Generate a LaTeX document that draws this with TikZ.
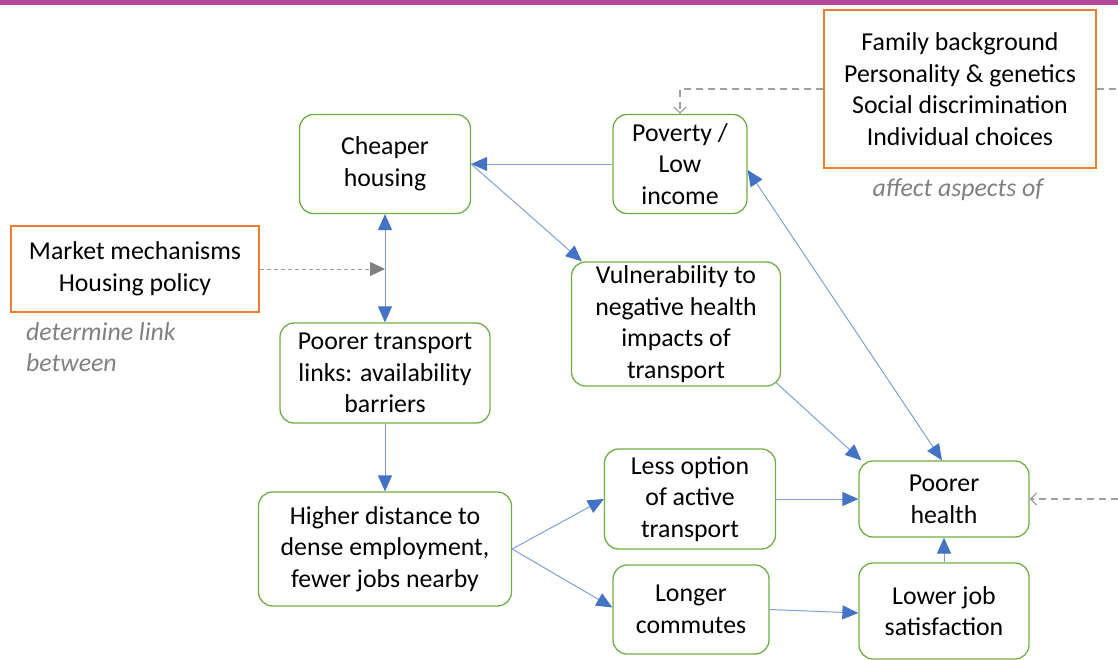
\documentclass[tikz,border=0pt]{standalone}
\usepackage{fontspec}
\setmainfont{Carlito}
\usetikzlibrary{arrows.meta}
\definecolor{boxgreen}{HTML}{70AD47}
\definecolor{boxorange}{HTML}{ED7D31}
\definecolor{arrblue}{HTML}{4472C4}
\definecolor{lineblue}{HTML}{7F9FDB}
\definecolor{dashgray}{HTML}{A0A0A0}
\definecolor{notegray}{HTML}{808080}
\definecolor{barpurple}{HTML}{B4489A}
\newcommand{\bodyfont}{\fontsize{25.8}{31.7}\selectfont}
\tikzset{
  gbox/.style={draw=boxgreen, line width=1.3pt, rounded corners=14pt, align=center, inner sep=0pt, text=black},
  obox/.style={draw=boxorange, line width=1.5pt, align=center, inner sep=0pt, text=black},
  note/.style={text=notegray, font=\bodyfont\itshape, inner sep=0pt},
  arr/.style={draw=lineblue, line width=1pt, -{Triangle[length=16pt,width=14pt,color=arrblue]}},
  darr/.style={draw=lineblue, line width=1pt, {Triangle[length=16pt,width=14pt,color=arrblue]}-{Triangle[length=16pt,width=14pt,color=arrblue]}},
  gdash/.style={draw=dashgray, line width=1.5pt, dash pattern=on 7pt off 5pt},
  gtip/.style={-{Straight Barb[length=6pt,width=12pt,line width=1.2pt]}},
  mdash/.style={draw=dashgray, line width=1pt, dash pattern=on 4pt off 3pt, -{Triangle[length=15pt,width=14pt,color=notegray]}}
}
\begin{document}
\begin{tikzpicture}[x=1pt,y=-1pt,font=\bodyfont]
\useasboundingbox (0,0) rectangle (1118,659);
\fill[barpurple] (0,0) rectangle (1118,5);

\node[gbox, minimum width=171pt, minimum height=99pt] (cheap) at (385,164) {Cheaper\\housing};
\node[gbox, minimum width=134pt, minimum height=99pt] (pov) at (680,164) {Poverty /\\Low\\income};
\node[obox, minimum width=272pt, minimum height=158pt] (fam) at (960,89) {Family background\\Personality \& genetics\\Social discrimination\\Individual choices};
\node[note] (aff) at (958,190) {affect aspects of};
\node[obox, minimum width=248pt, minimum height=86pt] (mkt) at (135,269) {Market mechanisms\\Housing policy};
\node[note, anchor=west, align=left] (det) at (26,347) {determine link\\between};
\node[gbox, minimum width=209pt, minimum height=124pt] (vuln) at (676,324) {Vulnerability to\\negative health\\impacts of\\transport};
\node[gbox, minimum width=210pt, minimum height=100pt] (trans) at (385,373) {Poorer transport\\links: availability\\barriers};
\node[gbox, minimum width=171pt, minimum height=100pt] (less) at (690,499) {Less option\\of active\\transport};
\node[gbox, minimum width=170pt, minimum height=76pt] (health) at (944,499) {Poorer\\health};
\node[gbox, minimum width=253pt, minimum height=114pt] (high) at (385,549) {Higher distance to\\dense employment,\\fewer jobs nearby};
\node[gbox, minimum width=156pt, minimum height=89pt] (long) at (691,609.5) {Longer\\commutes};
\node[gbox, minimum width=170pt, minimum height=96pt] (job) at (944,611) {Lower job\\satisfaction};

\coordinate (mid) at (385,269);
\coordinate (edgeA) at (1118,89);
\coordinate (edgeB) at (1118,499);

% blue connectors
\draw[arr] (pov) -- (cheap);
\draw[arr] (cheap.east) -- ([xshift=11pt]vuln.north west);
\draw[darr] (cheap.south) -- (trans.north);
\draw[arr] (trans.south) -- (high.north);
\draw[arr] (high.east) -- (less.west);
\draw[arr] (high.east) -- ([yshift=2pt]long.west);
\draw[arr] (less.east) -- (health.west);
\draw[arr] (long.east) -- ([yshift=-2pt]job.west);
\draw[arr] (job.north) -- (health.south);
\draw[arr] ([xshift=-5pt,yshift=4pt]vuln.south east) -- ([xshift=3pt]health.north west);
\draw[darr] ([yshift=-6pt]pov.east) -- ([xshift=-2pt]health.north);

% gray dashed connectors
\draw[mdash] (mkt.east) -- (mid);
\draw[gdash, gtip] (fam.west) -| (pov.north);
\draw[gdash] (fam.east) -- (edgeA);
\draw[gdash, gtip] (edgeB) -- (health.east);
\end{tikzpicture}
\end{document}
